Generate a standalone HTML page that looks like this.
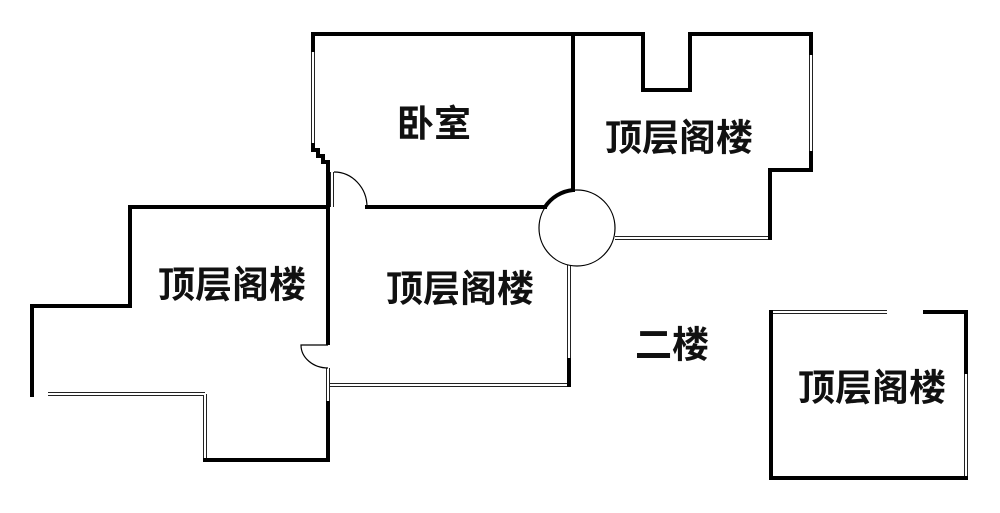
<!DOCTYPE html>
<html><head><meta charset="utf-8"><style>
html,body{margin:0;padding:0;background:#fff;}
svg{display:block;}
text{font-family:"Liberation Sans","Noto Sans CJK SC",sans-serif;font-weight:bold;font-size:37px;fill:#111;text-anchor:middle;dominant-baseline:central;}
.w{fill:none;stroke:#000;stroke-width:4;stroke-linecap:square;}
.win{fill:none;stroke:#222;stroke-width:4;}
.wi{fill:none;stroke:#fff;stroke-width:2;}
.t{fill:none;stroke:#000;stroke-width:1.2;}
</style></head><body>
<svg width="1000" height="513" viewBox="0 0 1000 513">
<g>
<path class="win" d="M313 50V145 M811 53V153 M770 238H615 M48 394H205 M205 394V460 M328 368V403 M330 385H569 M569 265V360 M332 172V207 M771 312H887 M966 372V478"/>
<path class="wi" d="M313 50V145 M811 53V153 M770 238H615 M48 394H205 M205 394V460 M328 368V403 M330 385H569 M569 265V360 M332 172V207 M771 312H887 M966 372V478"/>
</g>
<path class="w" d="M313 50V34H643V90H690V34H811V53 M811 153V170H770V238"/>
<path class="w" d="M313 145V150H318V156H323V162H328V343"/>
<path class="w" d="M573 34V190"/>
<path class="w" d="M367 207H545"/>
<path class="w" d="M328 207H130V306H32V395"/>
<path class="w" d="M205 460H328V403"/>
<path class="w" d="M569 360V385"/>
<path class="w" d="M925 312H966V372 M771 312V478H966"/>
<circle class="t" cx="577" cy="228" r="38"/>
<path d="M545 207 A38 38 0 0 1 573 190" fill="none" stroke="#000" stroke-width="4"/>
<path class="t" d="M334 172A33 35 0 0 1 367 207"/>
<path class="t" d="M328 345H301A27 23 0 0 0 328 368"/>
<text x="434" y="124">卧室</text>
<text x="679" y="138">顶层阁楼</text>
<text x="232" y="285">顶层阁楼</text>
<text x="460" y="289">顶层阁楼</text>
<text x="672" y="345">二楼</text>
<text x="872" y="388">顶层阁楼</text>
</svg>
</body></html>
